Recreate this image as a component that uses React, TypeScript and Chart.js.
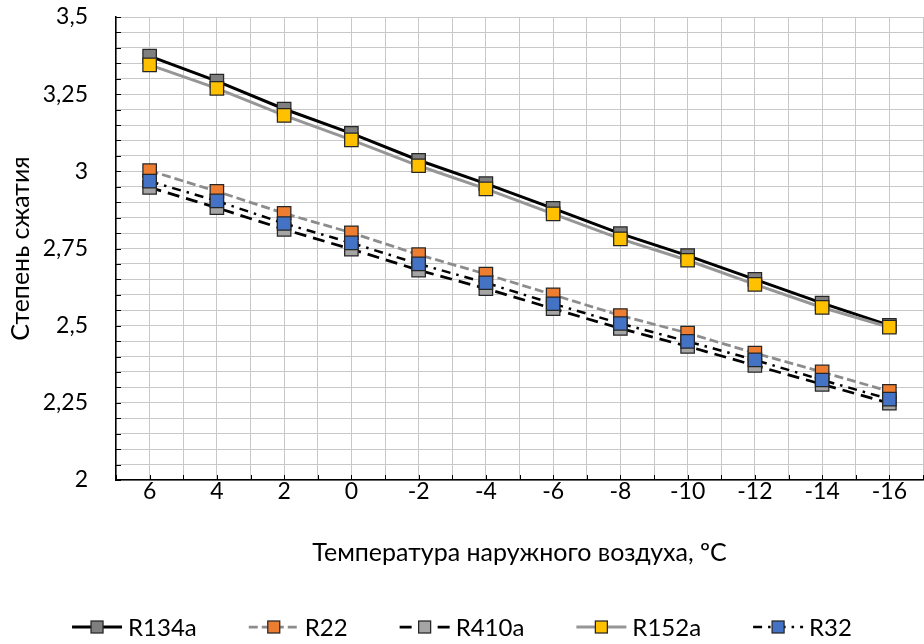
import React, { useEffect, useRef } from "react";
import { Chart, registerables } from "chart.js";

Chart.register(...registerables);

const categories = ["6", "4", "2", "0", "-2", "-4", "-6", "-8", "-10", "-12", "-14", "-16"];
const seriesNames = ["R134a", "R22", "R410a", "R152a", "R32"];
const r134a = [3.373, 3.292, 3.202, 3.123, 3.036, 2.96, 2.88, 2.798, 2.727, 2.65, 2.573, 2.501];
const r22 = [3.002, 2.935, 2.864, 2.801, 2.73, 2.667, 2.6, 2.533, 2.476, 2.411, 2.35, 2.287];
const r410a = [2.948, 2.882, 2.812, 2.748, 2.68, 2.62, 2.555, 2.491, 2.433, 2.371, 2.31, 2.249];
const r152a = [3.345, 3.269, 3.181, 3.102, 3.018, 2.943, 2.862, 2.781, 2.712, 2.634, 2.559, 2.495];
const r32 = [2.968, 2.904, 2.831, 2.768, 2.7, 2.639, 2.571, 2.507, 2.449, 2.389, 2.324, 2.262];
const yTitle = "Степень сжатия";
const xTitle = "Температура наружного воздуха, ºC";

const FONT = "Lato, 'Noto Sans', sans-serif";
const TICK_SIZE = 23;
const TITLE_SIZE = 25;
const LEGEND_SIZE = 24;

type Style = { fill: string; line: string; dash: number[]; width: number };
const styles: Style[] = [
  { fill: "#7f7f7f", line: "#000000", dash: [], width: 3 },
  { fill: "#ed7d31", line: "#8c8c8c", dash: [9, 4], width: 2.75 },
  { fill: "#a5a5a5", line: "#000000", dash: [12, 7], width: 2.75 },
  { fill: "#ffc000", line: "#969696", dash: [], width: 3 },
  { fill: "#4472c4", line: "#000000", dash: [9, 6, 2.5, 6], width: 2.5 },
];

const insideTicks = {
  id: "insideTicks",
  beforeDatasetsDraw(chart: any) {
    const { ctx, chartArea, scales } = chart;
    const x = scales.x;
    const y = scales.y;
    ctx.save();
    ctx.strokeStyle = "#000";
    ctx.lineWidth = 1;
    ctx.beginPath();
    y.ticks.forEach((t: any) => {
      const py = Math.round(y.getPixelForValue(t.value)) + 0.5;
      ctx.moveTo(chartArea.left, py);
      ctx.lineTo(chartArea.left + 5, py);
    });
    x.ticks.forEach((t: any) => {
      const px = Math.round(x.getPixelForValue(t.value)) + 0.5;
      ctx.moveTo(px, chartArea.bottom);
      ctx.lineTo(px, chartArea.bottom - 5);
    });
    ctx.stroke();
    ctx.restore();
  },
};

const customLegend = {
  id: "customLegend",
  afterDraw(chart: any) {
    const ctx = chart.ctx as CanvasRenderingContext2D;
    ctx.save();
    ctx.font = `${LEGEND_SIZE}px ${FONT}`;
    const sampleW = 50;
    const textGap = 6;
    const itemGap = 52;
    const widths = seriesNames.map((n) => ctx.measureText(n).width);
    const total =
      widths.reduce((a, w) => a + sampleW + textGap + w, 0) + itemGap * (seriesNames.length - 1);
    let x = chart.width / 2 - total / 2;
    const cy = chart.height - 17;
    seriesNames.forEach((name, i) => {
      const s = styles[i];
      ctx.strokeStyle = s.line;
      ctx.lineWidth = s.width;
      ctx.setLineDash(s.dash);
      ctx.beginPath();
      ctx.moveTo(x, cy);
      ctx.lineTo(x + sampleW, cy);
      ctx.stroke();
      ctx.setLineDash([]);
      const m = 12;
      ctx.fillStyle = s.fill;
      ctx.fillRect(x + sampleW / 2 - m / 2, cy - m / 2, m, m);
      ctx.strokeStyle = "#262626";
      ctx.lineWidth = 1.25;
      ctx.strokeRect(x + sampleW / 2 - m / 2, cy - m / 2, m, m);
      ctx.fillStyle = "#000";
      ctx.textAlign = "left";
      ctx.textBaseline = "middle";
      ctx.fillText(name, x + sampleW + textGap, cy + 1);
      x += sampleW + textGap + widths[i] + itemGap;
    });
    ctx.restore();
  },
};

export default function App() {
  const ref = useRef<HTMLCanvasElement | null>(null);
  useEffect(() => {
    document.body.style.margin = "0";
    const all = [r134a, r22, r410a, r152a, r32];
    const chart = new Chart(ref.current!, {
      type: "line",
      data: {
        datasets: all.map((vals, i) => ({
          label: seriesNames[i],
          data: vals.map((v, k) => ({ x: k, y: v })),
          borderColor: styles[i].line,
          borderWidth: styles[i].width,
          borderDash: styles[i].dash,
          backgroundColor: styles[i].fill,
          pointBackgroundColor: styles[i].fill,
          pointBorderColor: "#262626",
          pointBorderWidth: 1.25,
          pointStyle: "rect",
          pointRadius: 9.5,
          tension: 0,
          fill: false,
          order: all.length - i,
        })),
      },
      plugins: [insideTicks, customLegend],
      options: {
        animation: false,
        responsive: false,
        events: [],
        layout: { autoPadding: false, padding: { left: 0, right: 1, top: 17, bottom: 0 } },
        plugins: {
          tooltip: { enabled: false },
          legend: { display: false },
        },
        scales: {
          x: {
            type: "linear",
            min: -0.5,
            max: 11.5,
            grid: { color: "#c8c8c8", lineWidth: 1, drawTicks: false },
            border: { color: "#000", width: 1.5 },
            afterFit: (s: any) => {
              s.height = 164;
              s.paddingLeft = 0;
              s.paddingRight = 0;
            },
            ticks: {
              stepSize: 0.5,
              autoSkip: false,
              maxRotation: 0,
              padding: 0,
              color: "#000",
              font: { family: FONT, size: TICK_SIZE, lineHeight: 1 },
              callback: (v: any) => {
                const n = Number(v);
                return Math.abs(n - Math.round(n)) < 1e-6 ? categories[Math.round(n)] ?? "" : "";
              },
            },
            title: {
              display: true,
              text: xTitle,
              color: "#000",
              font: { family: FONT, size: TITLE_SIZE, lineHeight: 1.2 },
              padding: { top: 0, bottom: 76 },
            },
          },
          y: {
            min: 2,
            max: 3.5,
            grid: { color: "#c8c8c8", lineWidth: 1, drawTicks: false },
            border: { color: "#000", width: 1.5 },
            afterFit: (s: any) => {
              s.width = 116;
              s.paddingTop = 0;
              s.paddingBottom = 0;
            },
            ticks: {
              stepSize: 0.05,
              maxTicksLimit: 100,
              autoSkip: false,
              padding: 28,
              color: "#000",
              font: { family: FONT, size: TICK_SIZE },
              callback: (v: any) => {
                const n = Number(v);
                if (Math.abs(n * 4 - Math.round(n * 4)) > 1e-6) return "";
                return String(Math.round(n * 100) / 100).replace(".", ",");
              },
            },
            title: {
              display: true,
              text: yTitle,
              color: "#000",
              font: { family: FONT, size: TITLE_SIZE, lineHeight: 1.2 },
              padding: { top: 6, bottom: 0 },
            },
          },
        },
      },
    });
    return () => chart.destroy();
  }, []);
  return (
    <div style={{ width: 924, height: 644 }}>
      <canvas ref={ref} width={924} height={644} style={{ width: 924, height: 644, display: "block" }} />
    </div>
  );
}
